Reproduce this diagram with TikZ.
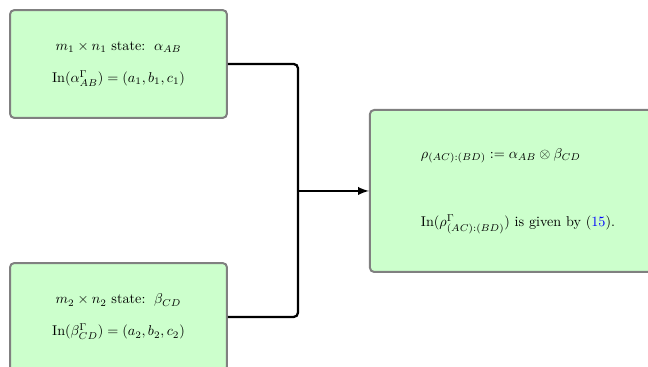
\documentclass[tikz,border=0pt]{standalone}
\usepackage{amsmath}
\begin{document}
\begin{tikzpicture}[
    statebox/.style={draw=gray, line width=1.4pt, fill=green!20, rounded corners=3pt,
      minimum width=5.37cm, minimum height=2.67cm, align=center},
    resultbox/.style={statebox, minimum width=7.33cm, minimum height=4.01cm, align=left},
    link/.style={ultra thick, rounded corners=3pt}
  ]
  \clip (0,0) rectangle (16.04,-9.06);
  \useasboundingbox (0,0) rectangle (16.04,-9.06);
  \draw
    (2.933,-1.584) node[statebox] (alpha)
      {$m_1\times n_1$ state: \,$\alpha_{AB}$\\[10.5pt]
       $\mathrm{In}(\alpha^\Gamma_{AB})=(a_1,b_1,c_1)$}
    (2.933,-7.846) node[statebox] (beta)
      {$m_2\times n_2$ state: \,$\beta_{CD}$\\[10.5pt]
       $\mathrm{In}(\beta^\Gamma_{CD})=(a_2,b_2,c_2)$}
    (12.821,-4.727) node[resultbox] (rho)
      {$\rho_{(AC):(BD)}:=\alpha_{AB}\otimes\beta_{CD}$\\[36pt]
       $\mathrm{In}(\rho^\Gamma_{(AC):(BD)})$ is given by (\textcolor{blue}{15}).};
  \coordinate (join) at (7.376,-4.727);
  \begin{scope}[link]
    \draw (alpha.east) -| (join);
    \draw (beta.east) -| (join);
    \draw[-latex] (join) -- (rho.west);
  \end{scope}
\end{tikzpicture}
\end{document}
